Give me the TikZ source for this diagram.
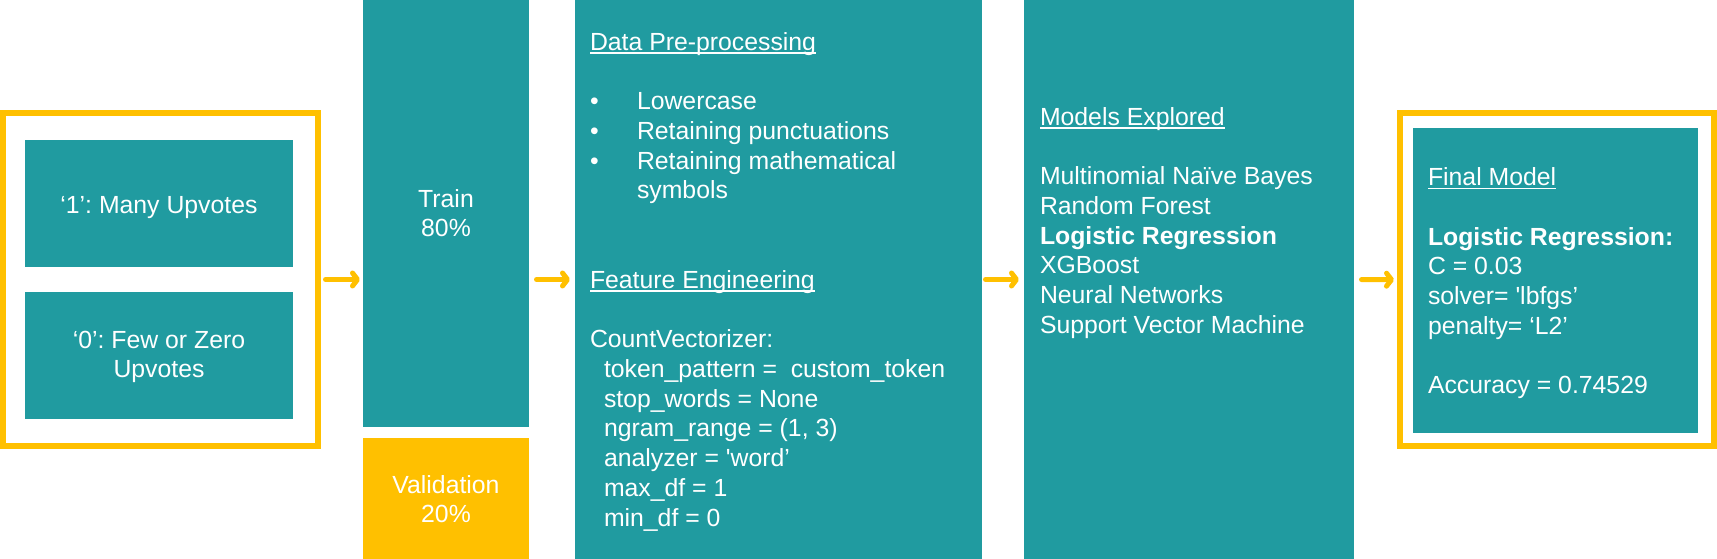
\documentclass[tikz,border=0pt]{standalone}
\usepackage{fontspec}
\setmainfont{Liberation Sans}
\usetikzlibrary{arrows.meta}
\definecolor{teal1}{RGB}{32,155,160}
\definecolor{gold}{RGB}{255,192,0}
\frenchspacing
\newsavebox\ulbox
\newcommand\ulx[1]{\sbox\ulbox{#1}\rlap{\rule[-3.8pt]{\wd\ulbox}{1.8pt}}\usebox\ulbox}
\newcommand\fl{\rule{0pt}{20pt}}
\newcommand\bul{\makebox[47pt][l]{\textbullet}}
\begin{document}
\begin{tikzpicture}[x=1pt,y=-1pt,
  box/.style={fill=teal1, draw=none, inner sep=0pt, outer sep=0pt},
  frame/.style={draw=gold, line width=6pt, fill=none, inner sep=0pt},
  txt/.style={text=white, inner sep=0pt, outer sep=0pt, font=\fontsize{24.8}{29.75}\selectfont\frenchspacing},
  arr/.style={draw=gold, line width=5pt, line cap=round,
    -{Straight Barb[length=5pt,width=13pt,line cap=round,line join=round]}}]
\useasboundingbox (0,0) rectangle (1717,559);

% left frame with class boxes
\node[frame, minimum width=315pt, minimum height=333pt] (lframe) at (160.5,279.5) {};
\node[box, minimum width=268pt, minimum height=127pt] (b1) at (159,203.5) {};
\node[box, minimum width=268pt, minimum height=127pt] (b2) at (159,355.5) {};
\node[txt, anchor=north, align=center] (t1) at (159,193) {\fl‘1’: Many Upvotes};
\node[txt, anchor=north, align=center] (t2) at (159,328) {\fl‘0’: Few or Zero\\Upvotes};

% train / validation
\node[box, minimum width=166pt, minimum height=427pt] (train) at (446,213.5) {};
\node[box, fill=gold, minimum width=166pt, minimum height=121pt] (valid) at (446,498.5) {};
\node[txt, anchor=north, align=center] (ttrain) at (446,187) {\fl Train\\80\%};
\node[txt, anchor=north, align=center] (tvalid) at (446,473) {\fl Validation\\20\%};

% pre-processing / feature engineering
\node[box, minimum width=407pt, minimum height=559pt] (feat) at (778.5,279.5) {};
\node[txt, anchor=north west, align=left] (tfeat) at (590,30) {\fl\ulx{Data Pre-processing}\\[29.75pt]
\bul Lowercase\\
\bul Retaining punctuations\\
\bul Retaining mathematical\\
\hspace*{47pt}symbols\\[59.5pt]
\ulx{Feature Engineering}\\[29.75pt]
CountVectorizer:\\
\hspace*{14pt}token\_pattern =\ \ custom\_token\\
\hspace*{14pt}stop\_words = None\\
\hspace*{14pt}ngram\_range = (1, 3)\\
\hspace*{14pt}analyzer = \textquotesingle word’\\
\hspace*{14pt}max\_df = 1\\
\hspace*{14pt}min\_df = 0};

% models explored
\node[box, minimum width=330pt, minimum height=559pt] (models) at (1189,279.5) {};
\node[txt, anchor=north west, align=left] (tmodels) at (1040,105) {\fl\ulx{Models Explored}\\[29.75pt]
Multinomial Naïve Bayes\\
Random Forest\\
\textbf{Logistic Regression}\\
XGBoost\\
Neural Networks\\
Support Vector Machine};

% final model
\node[frame, minimum width=314pt, minimum height=332.5pt] (fframe) at (1557,279.75) {};
\node[box, minimum width=285pt, minimum height=305pt] (fbox) at (1555.5,280.5) {};
\node[txt, anchor=north west, align=left] (tfinal) at (1428,165.5) {\fl\ulx{Final Model}\\[29.75pt]
\textbf{Logistic Regression:}\\
C = 0.03\\
solver= \textquotesingle lbfgs’\\
penalty= ‘L2’\\[29.75pt]
Accuracy = 0.74529};

% arrows
\draw[arr, shorten <=4.5pt, shorten >=3pt] (lframe.east) -- (lframe.east -| train.west);
\draw[arr, shorten <=7.5pt, shorten >=5pt] (train.east |- feat.west) -- (feat.west);
\draw[arr, shorten <=3.5pt, shorten >=5pt] (feat.east) -- (models.west);
\draw[arr, shorten <=7.5pt, shorten >=3pt] (models.east) -- (fframe.west);
\end{tikzpicture}
\end{document}
